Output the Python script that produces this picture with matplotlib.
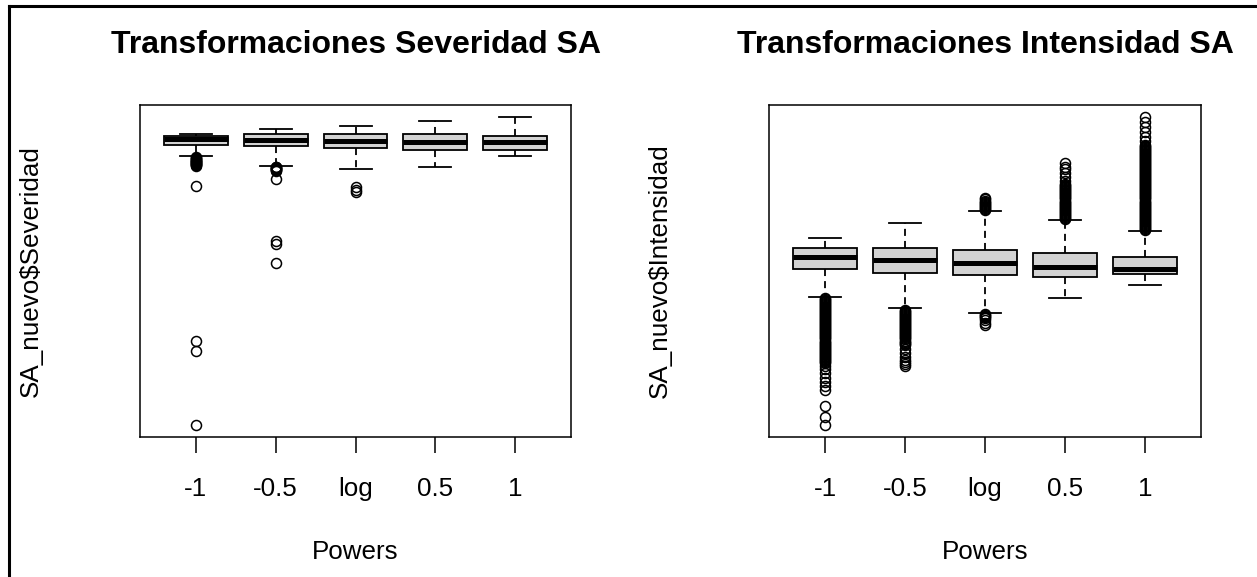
import matplotlib.pyplot as plt
from matplotlib.lines import Line2D

plt.rcParams['font.family'] = ['Liberation Sans', 'DejaVu Sans']

powers = ['-1', '-0.5', 'log', '0.5', '1']

# Severidad SA -- y axis carries no labels
sev_whislo = [280, 271, 268, 270, 280]
sev_q1 = [291, 290, 288, 286, 286]
sev_med = [297, 296, 295, 294, 294]
sev_q3 = [300, 302, 302, 302, 300]
sev_whishi = [302, 307, 310, 315, 319]
sev_out = [
    [279, 278.5, 278, 277.5, 277, 276.5, 276, 275.5, 275, 274.5, 274, 273.5,
     273, 272.5, 272, 271.5, 271, 251, 96, 86, 13],
    [270, 269.5, 269, 268.5, 268, 267.5, 267, 266.5, 266, 258, 196, 193, 174],
    [250, 247, 245],
    [],
    [],
]

# Intensidad SA
int_whislo = [140, 129, 124, 139, 152]
int_q1 = [167, 164, 162, 160, 163]
int_med = [179, 176, 173, 169, 167]
int_q3 = [188, 188, 186, 183, 179]
int_whishi = [198, 213, 225, 216, 205]
int_out = [
    [139, 138, 137, 136, 135, 134, 133, 132, 131, 130, 129, 128, 127, 126, 125,
     124, 123, 122, 121, 120, 119, 118, 117, 116, 115, 114, 113, 112, 111, 110,
     109, 108, 107, 106, 105, 104, 103, 102, 101, 100, 99, 98, 97, 96, 95, 94,
     93, 92, 91, 90, 89, 88, 87, 86, 85, 84, 83, 82, 81, 80, 79, 78, 77, 76, 75,
     72, 69, 65, 60, 56, 52, 48, 32, 22, 14],
    [127, 126, 125, 124, 123, 122, 121, 120, 119, 118, 117, 116, 115, 114, 113,
     112, 111, 110, 109, 108, 107, 106, 105, 104, 103, 102, 101, 100, 99, 98,
     97, 96, 95, 94, 93, 89, 85, 81, 78, 76, 74, 72],
    [226, 227, 228, 229, 230, 231, 232, 233, 234, 235, 236, 237,
     123, 122, 121, 120, 119, 117, 114, 112],
    [217, 218, 219, 220, 221, 222, 223, 224, 225, 226, 227, 228, 229, 230, 231,
     232, 233, 234, 235, 236, 237, 238, 239, 240, 241, 242, 243, 244, 245, 246,
     247, 248, 249, 250, 251, 254, 258, 262, 266, 268, 272],
    [206, 207, 208, 209, 210, 211, 212, 213, 214, 215, 216, 217, 218, 219, 220,
     221, 222, 223, 224, 225, 226, 227, 228, 229, 230, 231, 232, 233, 234, 235,
     236, 237, 238, 239, 240, 241, 242, 243, 244, 245, 246, 247, 248, 249, 250,
     251, 252, 253, 254, 255, 256, 257, 258, 259, 260, 261, 262, 263, 264, 265,
     266, 267, 268, 269, 270, 271, 272, 273, 274, 275, 276, 277, 278, 279, 280,
     281, 282, 283, 284, 285, 286, 287, 288, 289, 290, 294, 298, 303, 307, 312,
     317],
]


def draw_panel(ax, title, ylabel, whislo, q1, med, q3, whishi, fliers):
    stats = []
    for i in range(len(powers)):
        stats.append({'whislo': whislo[i], 'q1': q1[i], 'med': med[i],
                      'q3': q3[i], 'whishi': whishi[i], 'fliers': fliers[i]})
    ax.bxp(stats, positions=range(1, len(powers) + 1), widths=0.8,
           patch_artist=True, showfliers=True,
           boxprops=dict(facecolor='#d3d3d3', edgecolor='black', linewidth=1.3),
           medianprops=dict(color='black', linewidth=3.6, solid_capstyle='butt'),
           whiskerprops=dict(color='black', linewidth=1.3, linestyle=(0, (3.9, 2.8))),
           capprops=dict(color='black', linewidth=1.3),
           flierprops=dict(marker='o', markerfacecolor='none', markeredgecolor='black',
                           markersize=7.2, markeredgewidth=1.1))

    lo = min(whislo + [v for f in fliers for v in f])
    hi = max(whishi + [v for f in fliers for v in f])
    pad = 0.04 * (hi - lo)
    ax.set_ylim(lo - pad, hi + pad)
    ax.set_xlim(0.3, len(powers) + 0.7)

    ax.set_xticks(range(1, len(powers) + 1))
    ax.set_xticklabels(powers, fontsize=18.7)
    ax.set_yticks([])
    ax.tick_params(axis='x', length=11.5, width=1.1, pad=17.5)
    for s in ax.spines.values():
        s.set_linewidth(1.1)

    ax.set_title(title, fontsize=23, fontweight='bold', pad=37.7)
    ax.set_xlabel('Powers', fontsize=18.7)
    ax.xaxis.set_label_coords(0.5, -0.309)
    ax.set_ylabel(ylabel, fontsize=18.7)


fig = plt.figure(figsize=(12.57, 5.77), dpi=100)
ax1 = fig.add_axes([0.1114, 0.2426, 0.3429, 0.5754])
ax2 = fig.add_axes([0.6118, 0.2426, 0.3437, 0.5754])

draw_panel(ax1, 'Transformaciones Severidad SA', 'SA_nuevo$Severidad',
           sev_whislo, sev_q1, sev_med, sev_q3, sev_whishi, sev_out)
draw_panel(ax2, 'Transformaciones Intensidad SA', 'SA_nuevo$Intensidad',
           int_whislo, int_q1, int_med, int_q3, int_whishi, int_out)
ax1.yaxis.set_label_coords(-0.226, 0.5)
ax2.yaxis.set_label_coords(-0.2245, 0.5)

# screenshot frame (top and left edges)
fig.add_artist(Line2D([0.0068, 1.0], [0.9896, 0.9896], color='black', linewidth=2.2))
fig.add_artist(Line2D([0.0068, 0.0068], [0.0, 0.9896], color='black', linewidth=2.2))

fig.savefig('out.png', dpi=100)
